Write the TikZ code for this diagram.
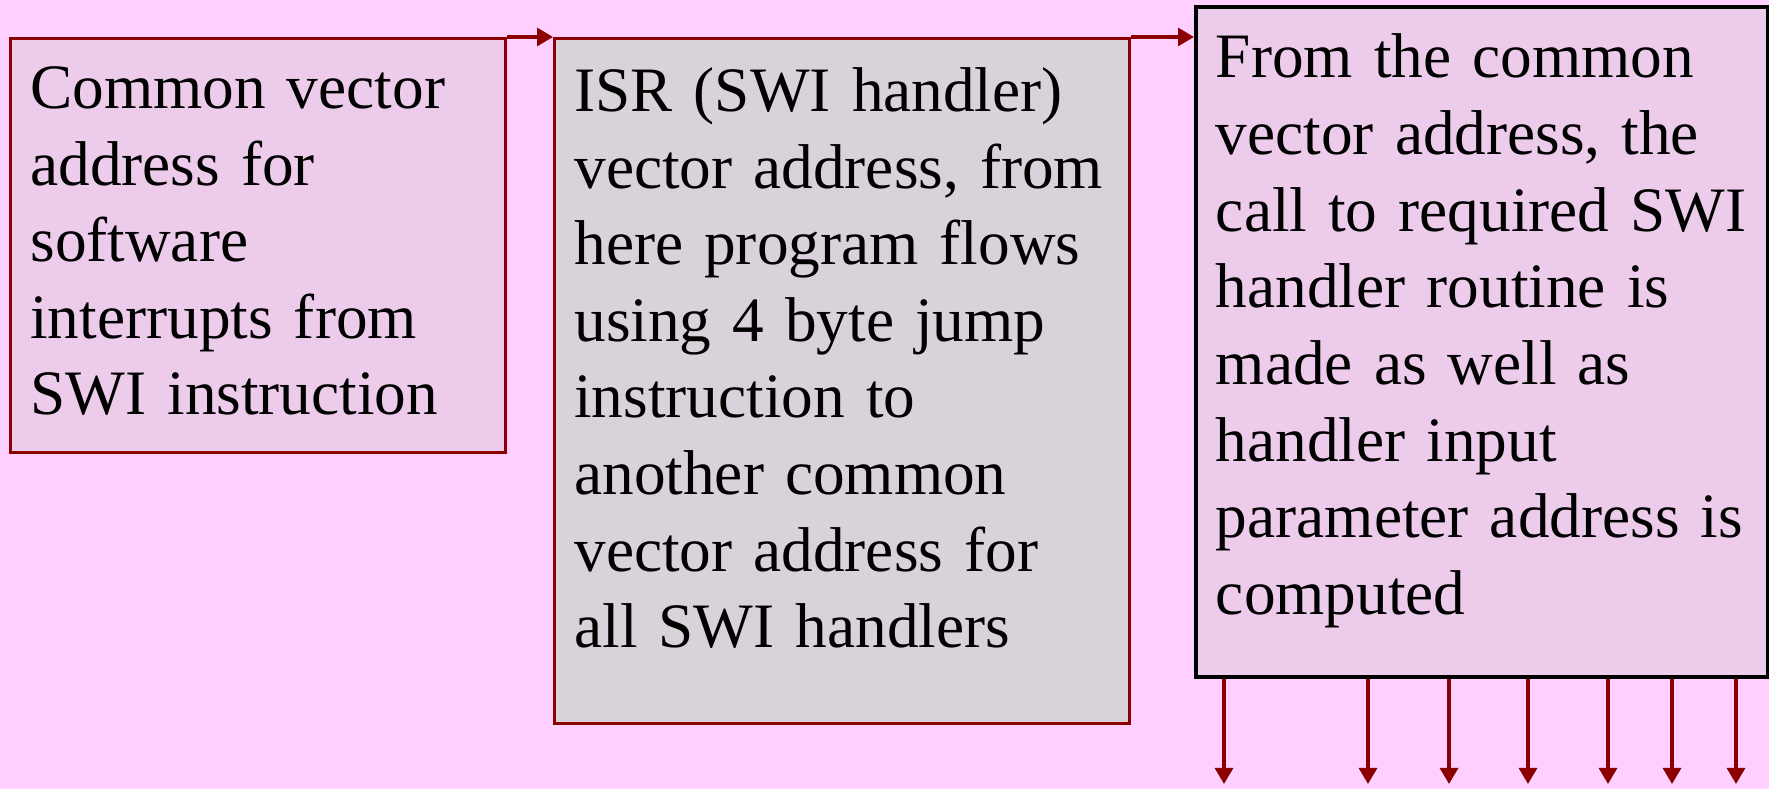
\documentclass[tikz,border=0pt]{standalone}
\usepackage{fontspec}
\setmainfont{Liberation Serif}
\usetikzlibrary{arrows.meta}
\usetikzlibrary{positioning}
\definecolor{slidepink}{RGB}{255,208,255}
\definecolor{boxpink}{RGB}{236,204,234}
\definecolor{boxgrey}{RGB}{218,210,218}
\definecolor{darkred}{RGB}{139,0,0}
\tikzset{
  swibox/.style={rectangle, anchor=north west, align=left, inner xsep=0.2cm, inner ysep=0pt,
    font=\fontsize{18pt}{21.8pt}\selectfont, text=black, line width=0.8pt},
  flow/.style={darkred, line width=0.9pt, -{Triangle[length=0.16cm,width=0.18cm]}}
}
\begin{document}
\begin{tikzpicture}
\useasboundingbox (0,0) rectangle (17.69,7.89);
\fill[slidepink] (0,0) rectangle (17.69,7.89);

\node[swibox, fill=boxpink, draw=darkred, text width=4.55cm, text height=0.70cm, text depth=3.44cm] (b1) at (0.09,7.52)
  {Common vector\\address for\\software\\interrupts from\\SWI instruction};
\node[swibox, fill=boxgrey, draw=darkred, text width=5.35cm, text height=0.73cm, text depth=6.12cm] (b2) at (5.53,7.52)
  {ISR (SWI handler)\\vector address, from\\here program flows\\using 4 byte jump\\instruction to\\another common\\vector address for\\all SWI handlers};
\node[swibox, fill=boxpink, draw=black, line width=1.1pt, text width=5.32cm, text height=0.71cm, text depth=5.99cm] (b3) at (11.94,7.84)
  {From the common\\vector address, the\\call to required SWI\\handler routine is\\made as well as\\handler input\\parameter address is\\computed};

\draw[flow] (b1.north east) -- (b2.north west);
\draw[flow] (b2.north east) -- (b2.north east -| b3.west);

\foreach \x [count=\i] in {12.24,13.68,14.49,15.28,16.08,16.72,17.36}
{
  \coordinate (out\i) at (\x,0.05);
  \draw[flow] (b3.south -| out\i) -- (out\i);
}
\end{tikzpicture}
\end{document}
